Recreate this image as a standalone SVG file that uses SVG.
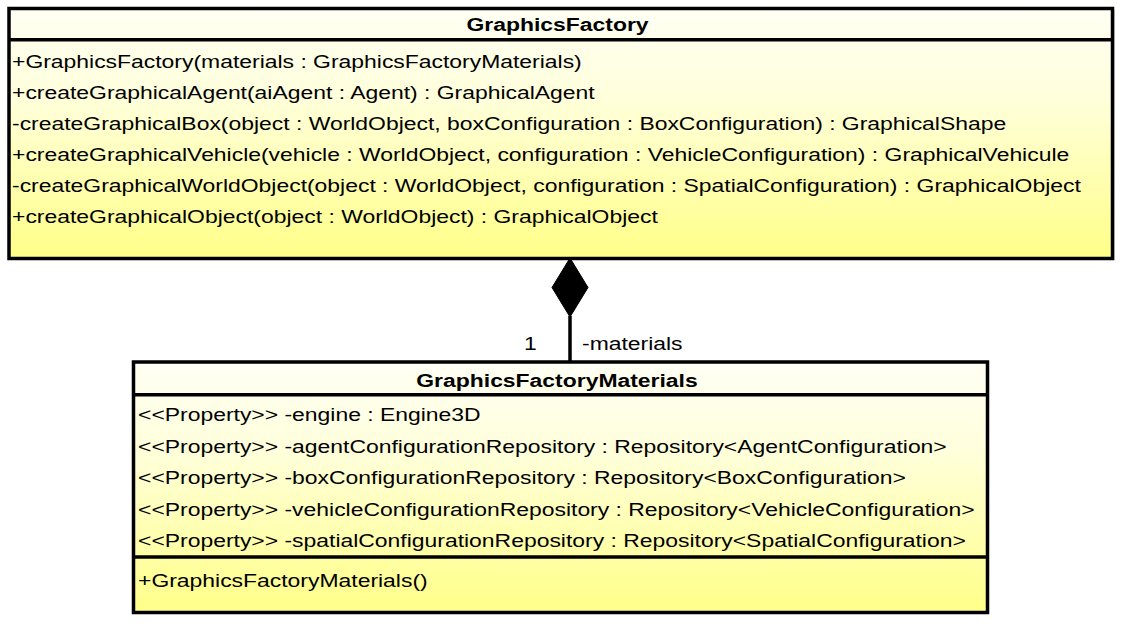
<svg xmlns="http://www.w3.org/2000/svg" width="1125" height="625" viewBox="0 0 1125 625">
<defs>
<linearGradient id="fillGrad" x1="0" y1="0" x2="0" y2="1">
<stop offset="0" stop-color="#FFFFF4"/>
<stop offset="0.35" stop-color="#FFFFDC"/>
<stop offset="1" stop-color="#FFFF88"/>
</linearGradient>
<style>
.box{fill:url(#fillGrad);stroke:#000;stroke-width:3.5}
.shadow{fill:#b4b4b4}
.sep{stroke:#000;stroke-width:3.5}
.t{font-family:"Liberation Sans",Arial,sans-serif;font-size:18.7px;fill:#000}
.h{font-family:"Liberation Sans",Arial,sans-serif;font-size:18.7px;font-weight:bold;fill:#000;text-anchor:middle}
.conn{stroke:#000;stroke-width:3.5;fill:none}
</style>
</defs>
<rect width="1125" height="625" fill="#fff"/>
<g id="GraphicsFactory">
<rect class="shadow" x="10.5" y="10" width="1104" height="250"/>
<rect class="box" x="9" y="8.5" width="1103.5" height="250"/>
<line class="sep" x1="9" y1="39.7" x2="1112.5" y2="39.7"/>
<text class="h" transform="translate(557.5,31) scale(1.226,1)">GraphicsFactory</text>
<text class="t" transform="translate(12,68) scale(1.226,1)">+GraphicsFactory(materials : GraphicsFactoryMaterials)</text>
<text class="t" transform="translate(12,99) scale(1.226,1)">+createGraphicalAgent(aiAgent : Agent) : GraphicalAgent</text>
<text class="t" transform="translate(12,130) scale(1.226,1)">-createGraphicalBox(object : WorldObject, boxConfiguration : BoxConfiguration) : GraphicalShape</text>
<text class="t" transform="translate(12,161) scale(1.226,1)">+createGraphicalVehicle(vehicle : WorldObject, configuration : VehicleConfiguration) : GraphicalVehicule</text>
<text class="t" transform="translate(12,192) scale(1.226,1)">-createGraphicalWorldObject(object : WorldObject, configuration : SpatialConfiguration) : GraphicalObject</text>
<text class="t" transform="translate(12,223) scale(1.226,1)">+createGraphicalObject(object : WorldObject) : GraphicalObject</text>
</g>
<g id="GraphicsFactoryMaterials">
<rect class="shadow" x="135" y="363.5" width="854" height="250.5"/>
<rect class="box" x="133.5" y="362" width="854" height="250.5"/>
<line class="sep" x1="133.5" y1="394.7" x2="987.5" y2="394.7"/>
<line class="sep" x1="133.5" y1="557" x2="987.5" y2="557"/>
<text class="h" transform="translate(557,387) scale(1.226,1)">GraphicsFactoryMaterials</text>
<text class="t" transform="translate(138,421) scale(1.226,1)">&lt;&lt;Property&gt;&gt; -engine : Engine3D</text>
<text class="t" transform="translate(138,452.5) scale(1.226,1)">&lt;&lt;Property&gt;&gt; -agentConfigurationRepository : Repository&lt;AgentConfiguration&gt;</text>
<text class="t" transform="translate(138,484) scale(1.226,1)">&lt;&lt;Property&gt;&gt; -boxConfigurationRepository : Repository&lt;BoxConfiguration&gt;</text>
<text class="t" transform="translate(138,515.5) scale(1.226,1)">&lt;&lt;Property&gt;&gt; -vehicleConfigurationRepository : Repository&lt;VehicleConfiguration&gt;</text>
<text class="t" transform="translate(138,547) scale(1.226,1)">&lt;&lt;Property&gt;&gt; -spatialConfigurationRepository : Repository&lt;SpatialConfiguration&gt;</text>
<text class="t" transform="translate(138,587) scale(1.226,1)">+GraphicsFactoryMaterials()</text>
</g>
<g id="connectors">
<line class="conn" x1="570" y1="316" x2="570" y2="362"/>
<polygon points="570,258 588,287.5 570,317 552,287.5" fill="#000" stroke="#000" stroke-width="1"/>
<text class="t" transform="translate(524,350) scale(1.226,1)">1</text>
<text class="t" transform="translate(582,350) scale(1.226,1)">-materials</text>
</g>
</svg>
